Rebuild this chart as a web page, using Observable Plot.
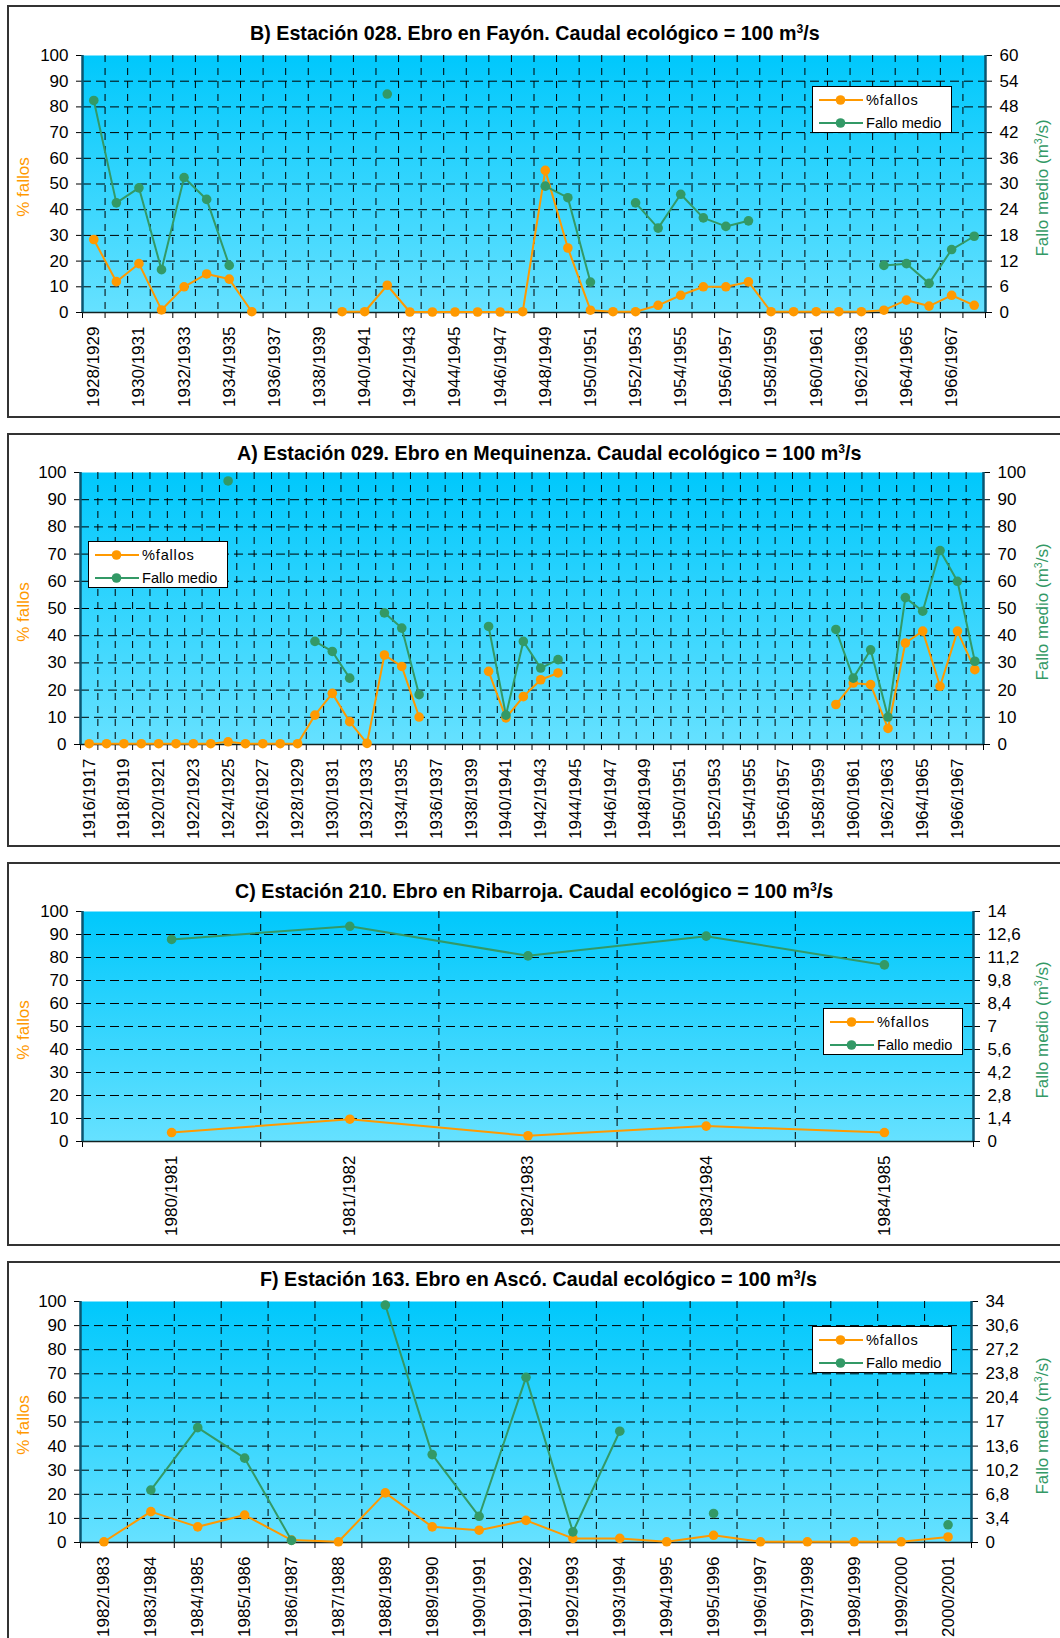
<!DOCTYPE html>
<html><head><meta charset="utf-8">
<script src="https://cdn.jsdelivr.net/npm/d3@7"></script>
<script src="https://cdn.jsdelivr.net/npm/@observablehq/plot@0.6"></script>
<style>
html,body{margin:0;padding:0;background:#fff;}
#page{position:relative;width:1060px;height:1638px;overflow:hidden;font-family:"Liberation Sans",Arial,sans-serif;color:#000;}
.box{position:absolute;border:2px solid #333;box-sizing:border-box;background:#fff;}
.title{position:absolute;font-weight:bold;font-size:19.7px;white-space:nowrap;line-height:1;}
.title sup{font-size:0.62em;vertical-align:0.55em;line-height:0;}
.ylab{position:absolute;font-size:17px;white-space:nowrap;transform:translate(-50%,-50%) rotate(-90deg);line-height:1;}
.ylab sup{font-size:0.62em;vertical-align:0.55em;line-height:0;}
.legend{position:absolute;background:#fff;border:1px solid #000;box-sizing:border-box;font-size:14.6px;}
.legend .row{position:absolute;left:0;height:20px;width:100%;}
.legend .row span{position:absolute;left:53px;top:2px;}
.legend .row svg{position:absolute;left:0;top:0;}
svg.panel{position:absolute;left:0;}
</style></head><body><div id="page"></div><script>
// ---------- DATA ----------
const leftTicks = [0,10,20,30,40,50,60,70,80,90,100];
const gridTicks = [10,20,30,40,50,60,70,80,90];

// B) Estación 028
const catB = ["1928/1929","1929/1930","1930/1931","1931/1932","1932/1933","1933/1934","1934/1935","1935/1936","1936/1937","1937/1938",
  "1938/1939","1939/1940","1940/1941","1941/1942","1942/1943","1943/1944","1944/1945","1945/1946","1946/1947","1947/1948",
  "1948/1949","1949/1950","1950/1951","1951/1952","1952/1953","1953/1954","1954/1955","1955/1956","1956/1957","1957/1958",
  "1958/1959","1959/1960","1960/1961","1961/1962","1962/1963","1963/1964","1964/1965","1965/1966","1966/1967","1967/1968"];
const fallosB = [28.4,12,19,1,10,15,13,0.3,null,null,
  null,0.3,0.3,10.6,0.2,0.2,0.2,0.2,0.2,0.3,
  55.3,25.1,0.9,0.3,0.3,2.8,6.7,10,10,11.9,
  0.3,0.3,0.3,0.3,0.3,0.9,4.8,2.5,6.7,2.8];
const medioB = [49.5,25.6,29.1,10.0,31.5,26.4,11.0,null,null,null,
  null,null,null,51.0,null,null,null,null,null,null,
  29.5,26.8,7.1,null,25.6,19.7,27.6,22.1,20.1,21.4,
  null,null,null,null,null,11.0,11.4,6.8,14.7,17.8];
const rTicksB = [0,6,12,18,24,30,36,42,48,54,60];

// A) Estación 029
const catA = ["1916/1917","1917/1918","1918/1919","1919/1920","1920/1921","1921/1922","1922/1923","1923/1924","1924/1925","1925/1926",
  "1926/1927","1927/1928","1928/1929","1929/1930","1930/1931","1931/1932","1932/1933","1933/1934","1934/1935","1935/1936",
  "1936/1937","1937/1938","1938/1939","1939/1940","1940/1941","1941/1942","1942/1943","1943/1944","1944/1945","1945/1946",
  "1946/1947","1947/1948","1948/1949","1949/1950","1950/1951","1951/1952","1952/1953","1953/1954","1954/1955","1955/1956",
  "1956/1957","1957/1958","1958/1959","1959/1960","1960/1961","1961/1962","1962/1963","1963/1964","1964/1965","1965/1966",
  "1966/1967","1967/1968"];
const fallosA = [0.3,0.3,0.3,0.3,0.3,0.3,0.3,0.3,1.0,0.3,
  0.3,0.3,0.3,10.8,18.8,8.4,0.4,32.9,28.7,10.1,
  null,null,null,26.9,9.8,17.6,23.8,26.3,null,null,
  null,null,null,null,null,null,null,null,null,null,
  null,null,null,14.7,22.6,22.0,5.9,37.3,41.7,21.4,
  41.7,27.5];
const medioA = [null,null,null,null,null,null,null,null,96.9,null,
  null,null,null,37.9,34.2,24.4,null,48.4,42.8,18.3,
  null,null,null,43.4,10.8,37.9,28.1,31.2,null,null,
  null,null,null,null,null,null,null,null,null,null,
  null,null,null,42.3,24.4,34.8,10.1,54.0,49.0,71.3,
  60.0,30.6];
const rTicksA = [0,10,20,30,40,50,60,70,80,90,100];

// C) Estación 210
const catC = ["1980/1981","1981/1982","1982/1983","1983/1984","1984/1985"];
const fallosC = [3.9,9.7,2.5,6.7,3.9];
const medioC = [12.3,13.1,11.3,12.5,10.75];
const rTicksC = [0,1.4,2.8,4.2,5.6,7,8.4,9.8,11.2,12.6,14];

// F) Estación 163
const catF = ["1982/1983","1983/1984","1984/1985","1985/1986","1986/1987","1987/1988","1988/1989","1989/1990","1990/1991","1991/1992",
  "1992/1993","1993/1994","1994/1995","1995/1996","1996/1997","1997/1998","1998/1999","1999/2000","2000/2001"];
const fallosF = [0.3,12.8,6.5,11.4,1.0,0.3,20.6,6.5,5.1,9.2,1.7,1.7,0.3,3.0,0.3,0.3,0.3,0.3,2.3];
const medioF = [null,7.4,16.2,11.9,0.3,null,33.5,12.4,3.7,23.3,1.5,15.7,null,4.1,null,null,null,null,2.5];
const rTicksF = [0,3.4,6.8,10.2,13.6,17,20.4,23.8,27.2,30.6,34];

// ---------- STYLE ----------
const ORANGE = "#FF9900", GREEN = "#339966";
const FONT = '"Liberation Sans", Arial, sans-serif';
const page = document.getElementById("page");

function el(tag, cls, css, html) {
  const e = document.createElement(tag);
  if (cls) e.className = cls;
  Object.assign(e.style, css || {});
  if (html != null) e.innerHTML = html;
  page.appendChild(e);
  return e;
}
const fmtR = v => String(Math.round(v * 10) / 10).replace(".", ",");

function panel(cfg) {
  const {id, cats, fallos, medio, rTicks, labelStep, L, R, T, H, box, title, legend} = cfg;
  el("div", "box", {left: "7px", top: box[0] + "px", width: "1060px", height: (box[1] - box[0]) + "px"});
  const n = cats.length;
  const rMax = rTicks[rTicks.length - 1];
  const rows = cats.map((c, i) => ({pos: i + 0.5, f: fallos[i], m: medio[i] == null ? null : medio[i] * 100 / rMax}));
  const bounds = d3.range(n + 1);
  const inner = d3.range(1, n);
  const labelTicks = d3.range(n).filter(i => i % labelStep === 0).map(i => i + 0.5);
  const mt = 10, mb = 100;
  const svg = Plot.plot({
    width: 1060, height: mt + H + mb,
    marginLeft: L, marginRight: 1060 - R, marginTop: mt, marginBottom: mb,
    style: {fontFamily: FONT, fontSize: "17px", background: "transparent", overflow: "visible", color: "#000"},
    x: {domain: [0, n]},
    y: {domain: [0, 100]},
    marks: [
      Plot.frame({fill: "#00CCFF", stroke: null}),
      Plot.gridY({ticks: gridTicks, stroke: "#000", strokeOpacity: 1, strokeWidth: 1, strokeDasharray: "9,5"}),
      Plot.gridX({ticks: inner, stroke: "#000", strokeOpacity: 1, strokeWidth: 1, strokeDasharray: "7,6"}),
      Plot.axisX({ticks: bounds, tickSize: 6, tickFormat: () => "", label: null}),
      Plot.axisX({ticks: labelTicks, tickSize: 0, tickPadding: 14, tickRotate: -90,
        tickFormat: v => cats[Math.round(v - 0.5)], label: null}),
      Plot.axisY({ticks: leftTicks, tickSize: 6, tickPadding: 8, label: null}),
      Plot.axisY({anchor: "right", ticks: rTicks.map(t => t * 100 / rMax), tickSize: 6, tickPadding: 8,
        tickFormat: v => fmtR(v * rMax / 100), label: null}),
      Plot.ruleY([0], {stroke: "#122", strokeWidth: 1.6}),
      Plot.ruleX([0, n], {stroke: "#0B5570", strokeWidth: 2.5}),
      Plot.line(rows, {x: "pos", y: "f", stroke: ORANGE, strokeWidth: 2}),
      Plot.dot(rows, {x: "pos", y: "f", r: 4.8, fill: ORANGE}),
      Plot.line(rows, {x: "pos", y: "m", stroke: GREEN, strokeWidth: 2}),
      Plot.dot(rows, {x: "pos", y: "m", r: 4.8, fill: GREEN})
    ]
  });
  // gradient background on the frame
  const NS = "http://www.w3.org/2000/svg";
  const defs = document.createElementNS(NS, "defs");
  const lg = document.createElementNS(NS, "linearGradient");
  lg.setAttribute("id", "grad" + id);
  lg.setAttribute("x1", "0"); lg.setAttribute("y1", "0"); lg.setAttribute("x2", "0"); lg.setAttribute("y2", "1");
  [["0", "#00C8FC"], ["1", "#66E1FF"]].forEach(([o, c]) => {
    const s = document.createElementNS(NS, "stop");
    s.setAttribute("offset", o); s.setAttribute("stop-color", c);
    lg.appendChild(s);
  });
  defs.appendChild(lg);
  svg.insertBefore(defs, svg.firstChild);
  const fr = svg.querySelector('[aria-label="frame"]');
  if (fr) {
    fr.setAttribute("fill", "url(#grad" + id + ")");
    fr.querySelectorAll("rect").forEach(r => r.setAttribute("fill", "url(#grad" + id + ")"));
  }
  svg.classList.add("panel");
  svg.style.top = (T - mt) + "px";
  page.appendChild(svg);

  // title
  el("div", "title", {left: title[0] + "px", top: (title[1] - 16.7) + "px"}, title[2]);
  // axis labels
  const cy = T + H / 2;
  el("div", "ylab", {left: "22.5px", top: (cy + 3.5) + "px", color: ORANGE}, "% fallos");
  el("div", "ylab", {left: "1041.5px", top: (cy + 4) + "px", color: GREEN}, "Fallo medio (m<sup>3</sup>/s)");
  // legend
  const lgd = el("div", "legend", {left: legend[0] + "px", top: legend[1] + "px", width: "140px", height: "47px"});
  [["%fallos", ORANGE, 2.5, "0.8px"], ["Fallo medio", GREEN, 25.5, "0px"]].forEach(([txt, col, y, ls]) => {
    const row = document.createElement("div");
    row.className = "row"; row.style.top = y + "px";
    row.innerHTML = `<svg width="52" height="20"><line x1="6" x2="50" y1="10" y2="10" stroke="${col}" stroke-width="2"/><circle cx="27.5" cy="10" r="4.8" fill="${col}"/></svg><span style="letter-spacing:${ls}">${txt}</span>`;
    lgd.appendChild(row);
  });
}

panel({id: "B", cats: catB, fallos: fallosB, medio: medioB, rTicks: rTicksB, labelStep: 2,
  L: 82, R: 985, T: 55, H: 257, box: [5, 418],
  title: [250, 41, "B) Estación 028. Ebro en Fayón. Caudal ecológico = 100 m<sup>3</sup>/s"], legend: [812, 86]});
panel({id: "A", cats: catA, fallos: fallosA, medio: medioA, rTicks: rTicksA, labelStep: 2,
  L: 80, R: 983, T: 472, H: 272, box: [433, 847],
  title: [237, 461, "A) Estación 029. Ebro en Mequinenza. Caudal ecológico = 100 m<sup>3</sup>/s"], legend: [88, 541]});
panel({id: "C", cats: catC, fallos: fallosC, medio: medioC, rTicks: rTicksC, labelStep: 1,
  L: 82, R: 973, T: 911, H: 230, box: [862, 1246],
  title: [235, 899, "C) Estación 210. Ebro en Ribarroja. Caudal ecológico = 100 m<sup>3</sup>/s"], legend: [823, 1008]});
panel({id: "F", cats: catF, fallos: fallosF, medio: medioF, rTicks: rTicksF, labelStep: 1,
  L: 80, R: 971, T: 1301, H: 241, box: [1261, 1700],
  title: [260, 1287, "F) Estación 163. Ebro en Ascó. Caudal ecológico = 100 m<sup>3</sup>/s"], legend: [812, 1326]});
</script></body></html>
